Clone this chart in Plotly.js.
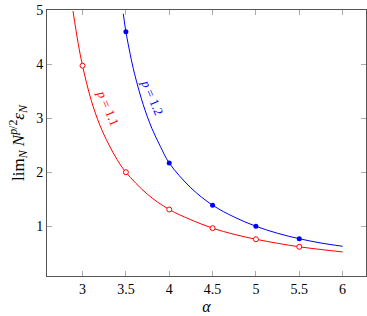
<!DOCTYPE html>
<html>
<head>
<meta charset="utf-8">
<script src="https://cdn.plot.ly/plotly-3.0.1.min.js"></script>
<style>html,body{margin:0;padding:0;background:#fff;}#chart{width:367px;height:316px;}</style>
</head>
<body>
<div id="chart"></div>
<script>
// Curve readings (p = 1.1, red)
var redAlpha = [2.89, 2.95, 3.0, 3.1, 3.2, 3.3, 3.4, 3.5, 3.75, 4.0, 4.25, 4.5, 4.75, 5.0, 5.25, 5.5, 5.75, 6.0];
var redValue = [4.98, 4.38, 3.97, 3.33, 2.87, 2.52, 2.23, 2.0, 1.59, 1.31, 1.12, 0.965, 0.85, 0.76, 0.685, 0.62, 0.57, 0.525];
// Curve readings (p = 1.2, blue)
var blueAlpha = [3.47, 3.5, 3.55, 3.6, 3.7, 3.8, 3.9, 4.0, 4.25, 4.5, 4.75, 5.0, 5.25, 5.5, 5.75, 6.0];
var blueValue = [4.93, 4.6, 4.18, 3.82, 3.25, 2.81, 2.47, 2.17, 1.71, 1.39, 1.17, 1.0, 0.87, 0.77, 0.69, 0.63];
// Marked points
var redMarkAlpha = [3.0, 3.5, 4.0, 4.5, 5.0, 5.5];
var redMarkValue = [3.97, 2.0, 1.31, 0.965, 0.76, 0.62];
var blueMarkAlpha = [3.5, 4.0, 4.5, 5.0, 5.5];
var blueMarkValue = [4.6, 2.17, 1.39, 1.0, 0.77];
var xTicks = [3, 3.5, 4, 4.5, 5, 5.5, 6];
var yTicks = [1, 2, 3, 4, 5];

var serif = 'Liberation Serif, DejaVu Serif, serif';
var traces = [
  {x: redAlpha, y: redValue, mode: 'lines', line: {color: '#ff0000', width: 1, shape: 'spline'}, hoverinfo: 'skip'},
  {x: blueAlpha, y: blueValue, mode: 'lines', line: {color: '#0000ff', width: 1, shape: 'spline'}, hoverinfo: 'skip'},
  {x: redMarkAlpha, y: redMarkValue, mode: 'markers', marker: {symbol: 'circle', size: 5, color: '#ffffff', line: {color: '#ff0000', width: 1}}},
  {x: blueMarkAlpha, y: blueMarkValue, mode: 'markers', marker: {symbol: 'circle', size: 5, color: '#0000ff', line: {color: '#0000ff', width: 0}}}
];
var layout = {
  width: 367, height: 316,
  margin: {l: 47, r: 1, t: 10, b: 40},
  showlegend: false,
  paper_bgcolor: '#fff', plot_bgcolor: '#fff',
  font: {family: serif, size: 13, color: '#000'},
  xaxis: {
    range: [2.59, 6.27], tickvals: xTicks, ticktext: xTicks.map(String),
    ticks: 'inside', ticklen: 5, tickcolor: '#aaaaaa', tickwidth: 1,
    showline: true, linecolor: '#555555', linewidth: 1, mirror: 'ticks',
    showgrid: false, zeroline: false,
    tickfont: {family: serif, size: 14},
    title: {text: '<i>α</i>', font: {family: serif, size: 16}, standoff: 5}
  },
  yaxis: {
    range: [0.08, 5.0], tickvals: yTicks, ticktext: yTicks.map(String),
    ticks: 'inside', ticklen: 5, tickcolor: '#aaaaaa', tickwidth: 1,
    showline: true, linecolor: '#555555', linewidth: 1, mirror: 'ticks',
    showgrid: false, zeroline: false,
    tickfont: {family: serif, size: 14},
    title: {text: 'lim<sub><i>N</i></sub> <i>N</i><sup><i>p</i>/2</sup><i>ε<sub>N</sub></i>', font: {family: serif, size: 17}, standoff: 7}
  },
  annotations: [
    {x: 3.29, y: 3.19, xref: 'x', yref: 'y', text: '<i>p</i> = 1.1', showarrow: false, textangle: 67, font: {family: serif, size: 13, color: '#ff0000'}},
    {x: 3.81, y: 3.39, xref: 'x', yref: 'y', text: '<i>p</i> = 1.2', showarrow: false, textangle: 67, font: {family: serif, size: 13, color: '#0000ff'}}
  ]
};
Plotly.newPlot('chart', traces, layout, {displayModeBar: false, staticPlot: true});
</script>
</body>
</html>
